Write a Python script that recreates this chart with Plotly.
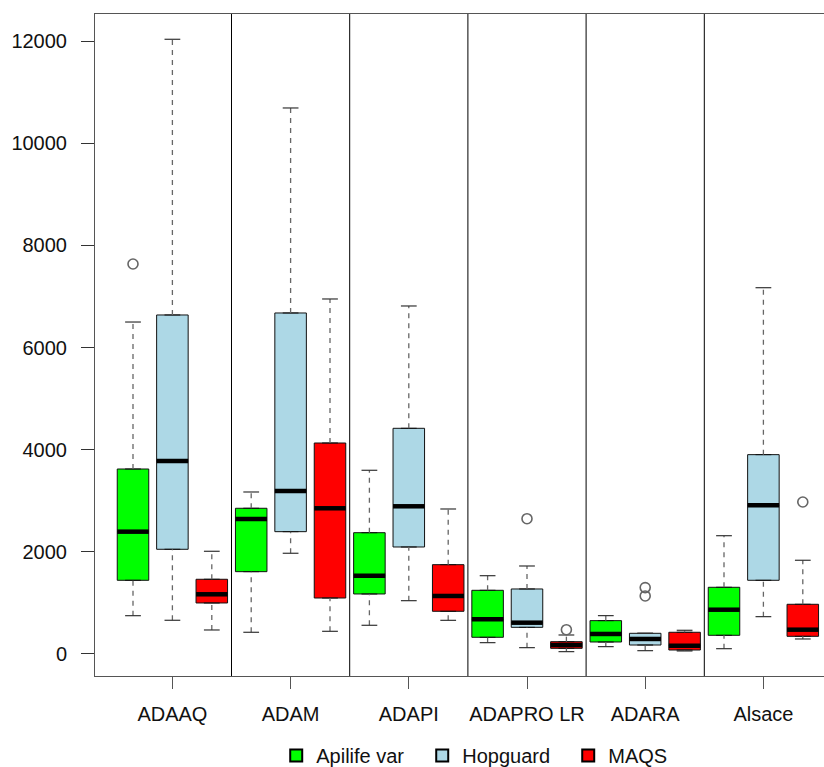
import plotly.graph_objects as go

# Apiary groups and treatment series
groups = ["ADAAQ", "ADAM", "ADAPI", "ADAPRO LR", "ADARA", "Alsace"]
series = ["Apilife var", "Hopguard", "MAQS"]
colors = ["#00FF00", "#ADD8E6", "#FF0000"]

# Box statistics per series, one value per group (same order as groups)
apilife_lo = [750, 425, 562, 222, 144, 104]
apilife_q1 = [1443, 1612, 1175, 327, 235, 366]
apilife_med = [2395, 2643, 1533, 679, 392, 867]
apilife_q3 = [3622, 2853, 2375, 1247, 653, 1306]
apilife_hi = [6500, 3172, 3597, 1533, 751, 2316]
apilife_out = [[7636], [], [], [], [], []]

hop_lo = [660, 1972, 1044, 124, 65, 731]
hop_q1 = [2050, 2395, 2095, 522, 176, 1443]
hop_med = [3779, 3192, 2892, 613, 294, 2911]
hop_q3 = [6638, 6677, 4419, 1273, 405, 3903]
hop_hi = [12036, 10691, 6814, 1723, 405, 7172]
hop_out = [[], [], [], [2649], [1136, 1300], []]

maqs_lo = [470, 444, 659, 46, 59, 294]
maqs_q1 = [999, 1096, 836, 111, 78, 346]
maqs_med = [1169, 2853, 1136, 176, 163, 476]
maqs_q3 = [1463, 4131, 1749, 241, 425, 973]
maqs_hi = [2011, 6951, 2839, 372, 464, 1835]
maqs_out = [[], [], [], [476], [], [2976]]

stats = [
    (apilife_lo, apilife_q1, apilife_med, apilife_q3, apilife_hi, apilife_out),
    (hop_lo, hop_q1, hop_med, hop_q3, hop_hi, hop_out),
    (maqs_lo, maqs_q1, maqs_med, maqs_q3, maqs_hi, maqs_out),
]

y_ticks = [0, 2000, 4000, 6000, 8000, 10000, 12000]

BOX_W = 0.8
CAP_W = 0.4
n_groups = len(groups)
n_series = len(series)

fig = go.Figure()

for s, (lo, q1, med, q3, hi, out) in enumerate(stats):
    pos = [g * n_series + s + 1 for g in range(n_groups)]
    # box body (whiskers are drawn separately as dashed lines)
    fig.add_trace(go.Box(
        x=pos, q1=q1, median=med, q3=q3, lowerfence=q1, upperfence=q3,
        width=BOX_W, fillcolor=colors[s], line=dict(color="#111111", width=1),
        boxpoints=False, showlegend=False, hoverinfo="skip",
    ))
    # dashed whiskers
    wx, wy = [], []
    for p, a, b, c, d in zip(pos, lo, q1, q3, hi):
        wx += [p, p, None, p, p, None]
        wy += [a, b, None, c, d, None]
    fig.add_trace(go.Scatter(
        x=wx, y=wy, mode="lines", line=dict(color="#666666", width=1.3, dash="5px,5px"),
        showlegend=False, hoverinfo="skip",
    ))
    # whisker caps
    cx, cy = [], []
    for p, a, d in zip(pos, lo, hi):
        cx += [p - CAP_W / 2, p + CAP_W / 2, None, p - CAP_W / 2, p + CAP_W / 2, None]
        cy += [a, a, None, d, d, None]
    fig.add_trace(go.Scatter(
        x=cx, y=cy, mode="lines", line=dict(color="#333333", width=1.2),
        showlegend=False, hoverinfo="skip",
    ))
    # thick median bars
    mx, my = [], []
    for p, m in zip(pos, med):
        mx += [p - BOX_W / 2, p + BOX_W / 2, None]
        my += [m, m, None]
    fig.add_trace(go.Scatter(
        x=mx, y=my, mode="lines", line=dict(color="#000000", width=4.5),
        showlegend=False, hoverinfo="skip",
    ))
    # outliers
    ox, oy = [], []
    for p, vals in zip(pos, out):
        for v in vals:
            ox.append(p)
            oy.append(v)
    fig.add_trace(go.Scatter(
        x=ox, y=oy, mode="markers",
        marker=dict(symbol="circle-open", size=10, color="#666666", line=dict(width=1.6)),
        showlegend=False, hoverinfo="skip",
    ))
    # legend entry
    fig.add_trace(go.Scatter(
        x=[None], y=[None], mode="markers", name=series[s],
        marker=dict(symbol="square", size=13, color=colors[s], line=dict(color="#000000", width=1)),
    ))

# vertical separators between groups
for g in range(1, n_groups):
    fig.add_shape(type="line", xref="x", yref="paper",
                  x0=g * n_series + 0.5, x1=g * n_series + 0.5, y0=0, y1=1,
                  line=dict(color="#000000", width=1))

centers = [g * n_series + 2 for g in range(n_groups)]
axis_font = dict(family="Liberation Sans, Arial, sans-serif", size=20, color="#111111")

fig.update_layout(
    width=824, height=767,
    margin=dict(l=95, r=0, t=14, b=91, autoexpand=False),
    paper_bgcolor="white", plot_bgcolor="white",
    boxmode="overlay",
    showlegend=True,
    legend=dict(orientation="h", x=0.549, xanchor="center", y=-0.12, yanchor="middle",
                font=axis_font, itemsizing="constant",
                entrywidth=101, entrywidthmode="pixels"),
    xaxis=dict(range=[0.0355, 18.538], tickvals=centers, ticktext=groups,
               ticks="outside", ticklen=12, tickcolor="#555555", tickfont=axis_font,
               showgrid=False, zeroline=False, showline=True, mirror=True,
               linecolor="#555555", linewidth=1, ticklabelstandoff=8),
    yaxis=dict(range=[-431, 12531], tickvals=y_ticks, ticktext=[str(v) for v in y_ticks],
               ticks="outside", ticklen=13, tickcolor="#333333", tickfont=axis_font,
               showgrid=False, zeroline=False, showline=True, mirror=False,
               linecolor="#555555", linewidth=1, ticklabelstandoff=10),
)

fig.write_html("out.html")
